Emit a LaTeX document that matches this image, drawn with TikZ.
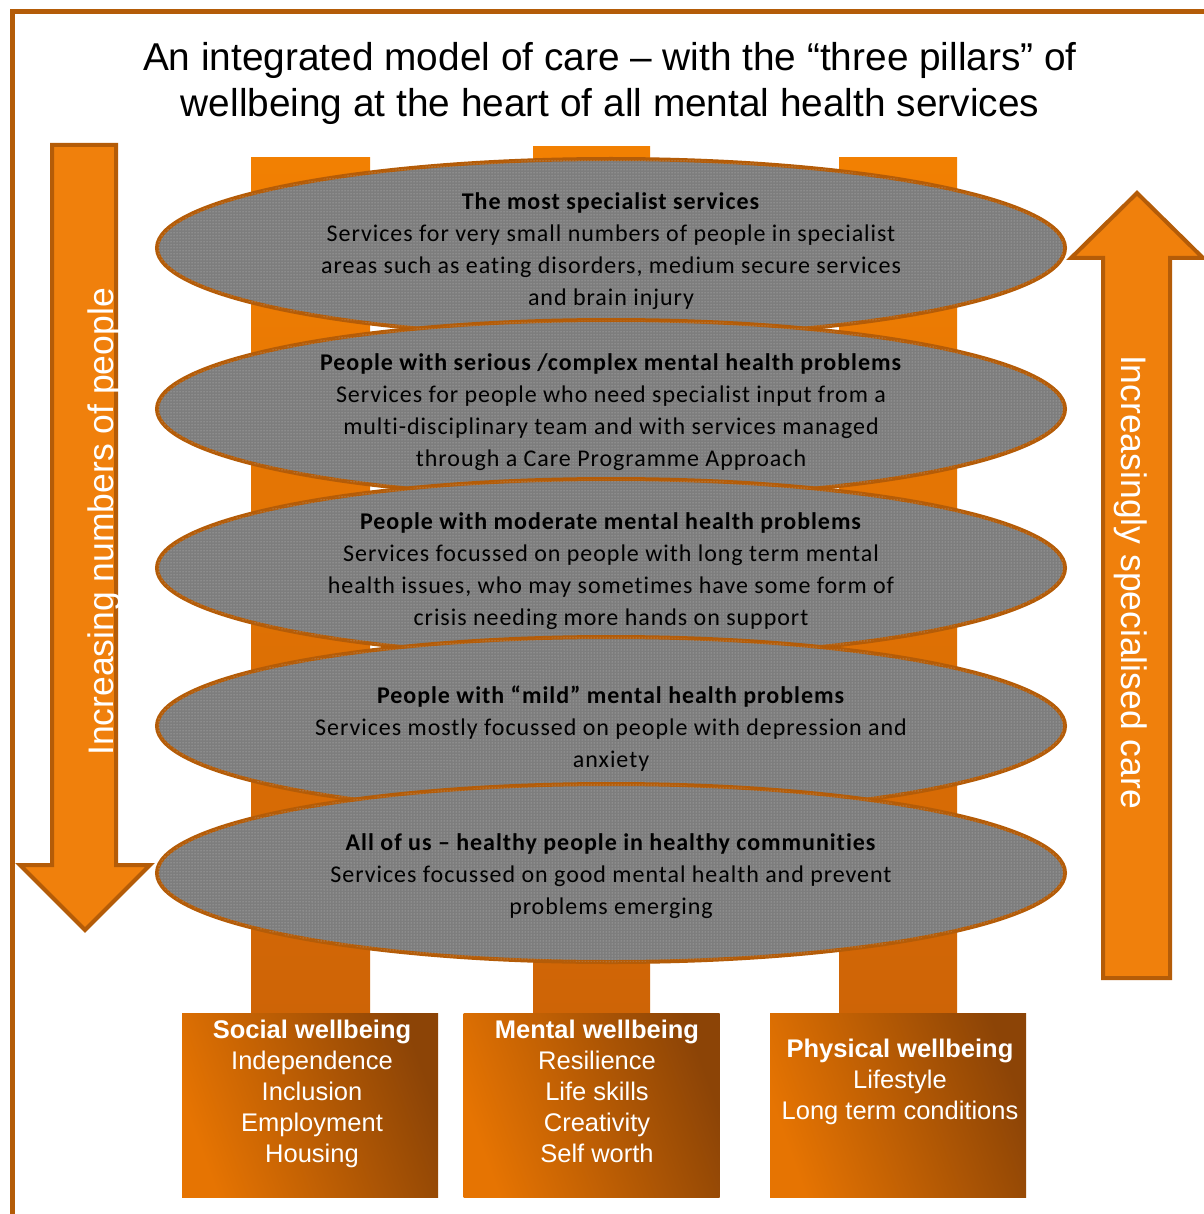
\documentclass[tikz,border=0pt]{standalone}
\usepackage{fontspec}
\setmainfont{Liberation Sans}
\newfontfamily\calfont[LetterSpace=4,Ligatures=NoCommon]{Carlito}
\usetikzlibrary{patterns,shapes.geometric}
\definecolor{bordc}{RGB}{180,92,8}
\definecolor{arrc}{RGB}{240,128,12}
\definecolor{pilA}{RGB}{242,128,2}
\definecolor{pilB}{RGB}{206,100,6}
\definecolor{boxA}{RGB}{230,116,2}
\definecolor{boxB}{RGB}{140,68,6}
\definecolor{ellg}{RGB}{125,125,125}
\definecolor{elldot}{RGB}{195,195,195}
\tikzset{
  pillar/.style={top color=pilA, bottom color=pilB, draw=none},
  ellbox/.style={ellipse, draw=bordc, line width=4, fill=ellg,
    postaction={pattern=dots, pattern color=elldot},
    minimum width=908, minimum height=178, inner sep=0},
  elltext/.style={align=center, font=\calfont\fontsize{24}{32}\selectfont, text=black},
  wbox/.style={draw=none, left color=boxA, right color=boxB, shading angle=110,
    minimum width=256, minimum height=184, inner sep=0},
  wtext/.style={align=center, text=white, font=\fontsize{25.5}{31}\selectfont, anchor=north},
  bigarrow/.style={fill=arrc, draw=bordc, line width=4, line join=miter},
  arrtext/.style={text=white, font=\fontsize{35.5}{38}\selectfont}
}
\begin{document}
\begin{tikzpicture}[x=1pt,y=-1pt]
\useasboundingbox (0,0) rectangle (1203,1214);
\fill[white] (0,0) rectangle (1203,1214);
% frame
\draw[bordc, line width=5] (12,1230) -- (12,12) -- (1230,12);
% title
\node[align=center, font=\fontsize{38.8}{46}\selectfont] (title) at (610,83)
  {An integrated model of care – with the “three pillars” of\\wellbeing at the heart of all mental health services};
% arrows
\draw[bigarrow] (52,145) -- (116,145) -- (116,865) -- (150,865) -- (85,930) -- (20,865) -- (52,865) -- cycle;
\node[arrtext, rotate=90] (ltext) at (104,522) {Increasing numbers of people};
\draw[bigarrow] (1103,978) -- (1103,258) -- (1071,258) -- (1137,193) -- (1203,258) -- (1170,258) -- (1170,978) -- cycle;
\node[arrtext, rotate=-90] (rtext) at (1131,582) {Increasingly specialised care};
% pillars
\shade[pillar] (251,158) rectangle (370,1015);
\shade[pillar] (533,147) rectangle (650,1015);
\shade[pillar] (839,158) rectangle (957,1015);
% ellipses
\node[ellbox] (e1) at (611,248) {};
\node[elltext] (t1) at ([yshift=-3]e1.center) {\textbf{The most specialist services}\\Services for very small numbers of people in specialist\\areas such as eating disorders, medium secure services\\and brain injury};
\node[ellbox] (e2) at (611,409) {};
\node[elltext] (t2) at ([yshift=-3]e2.center) {\textbf{People with serious /complex mental health problems}\\Services for people who need specialist input from a\\multi-disciplinary team and with services managed\\through a Care Programme Approach};
\node[ellbox] (e3) at (611,568) {};
\node[elltext] (t3) at ([yshift=-3]e3.center) {\textbf{People with moderate mental health problems}\\Services focussed on people with long term mental\\health issues, who may sometimes have some form of\\crisis needing more hands on support};
\node[ellbox] (e4) at (611,726) {};
\node[elltext] (t4) at ([yshift=-3]e4.center) {\textbf{People with “mild” mental health problems}\\Services mostly focussed on people with depression and\\anxiety};
\node[ellbox] (e5) at (611,873) {};
\node[elltext] (t5) at ([yshift=-3]e5.center) {\textbf{All of us – healthy people in healthy communities}\\Services focussed on good mental health and prevent\\problems emerging};
% boxes
\node[wbox] (b1) at (310,1105) {};
\node[wtext] (bt1) at (312,1016) {\textbf{Social wellbeing}\\Independence\\Inclusion\\Employment\\Housing};
\node[wbox] (b2) at (591.5,1105) {};
\node[wtext] (bt2) at (597,1016) {\textbf{Mental wellbeing}\\Resilience\\Life skills\\Creativity\\Self worth};
\node[wbox] (b3) at (898,1105) {};
\node[wtext] (bt3) at (900,1035) {\textbf{Physical wellbeing}\\Lifestyle\\Long term conditions};
\end{tikzpicture}
\end{document}
